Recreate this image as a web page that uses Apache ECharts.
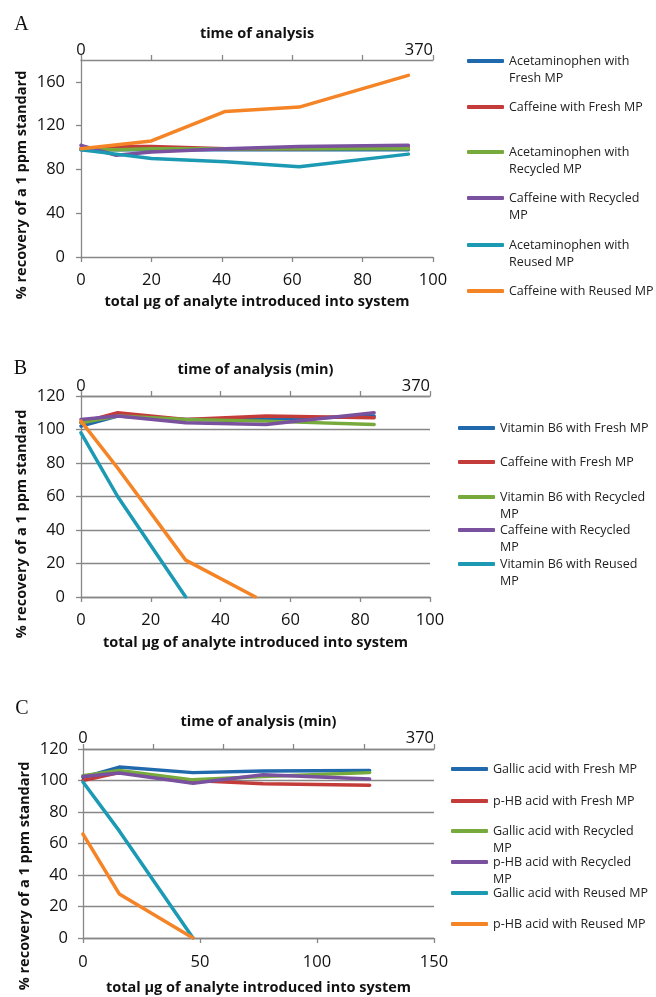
<!DOCTYPE html>
<html><head><meta charset="utf-8">
<script src="https://cdn.jsdelivr.net/npm/echarts@6/dist/echarts.min.js"></script>
<style>html,body{margin:0;padding:0;background:#fff}#c{width:656px;height:997px}</style>
</head><body><div id="c"></div>
<script>
// ---------- Panel A data ----------
const namesA = ['Acetaminophen with Fresh MP','Caffeine with Fresh MP','Acetaminophen with Recycled MP','Caffeine with Recycled MP','Acetaminophen with Reused MP','Caffeine with Reused MP'];
const legendTextA = ['Acetaminophen with\nFresh MP','Caffeine with Fresh MP','Acetaminophen with\nRecycled MP','Caffeine with Recycled\nMP','Acetaminophen with\nReused MP','Caffeine with Reused MP'];
const xA = [0,10,20,41,62,93];
const xAOrange = [0,20,41,62,93];
const aAcetFresh = [98,98,98,98,98,98];
const aCafFresh = [99,101,101,99,99,100];
const aAcetRecycled = [99,98,99,99,99,99];
const aCafRecycled = [102,93,96,99,101,102];
const aAcetReused = [98,94,90,87,82.5,94];
const aCafReused = [99,106,133,137,166];

// ---------- Panel B data ----------
const namesB = ['Vitamin B6 with Fresh MP','Caffeine with Fresh MP','Vitamin B6 with Recycled MP','Caffeine with Recycled MP','Vitamin B6 with Reused MP','Caffeine with Reused MP'];
const legendTextB = ['Vitamin B6 with Fresh MP','Caffeine with Fresh MP','Vitamin B6 with Recycled\nMP','Caffeine with Recycled\nMP','Vitamin B6 with Reused\nMP'];
const xB = [0,10.5,30,53,84];
const xBVitReused = [0,10.5,30];
const xBCafReused = [0,10.5,30,50];
const bVitFresh = [102,108,106,106,108];
const bCafFresh = [104,110,106,108,107];
const bVitRecycled = [104,108,106,105,103];
const bCafRecycled = [106,108,104,103,110];
const bVitReused = [98,60,0];
const bCafReused = [105,77,22,0];

// ---------- Panel C data ----------
const namesC = ['Gallic acid with Fresh MP','p-HB acid with Fresh MP','Gallic acid with Recycled MP','p-HB acid with Recycled MP','Gallic acid with Reused MP','p-HB acid with Reused MP'];
const legendTextC = ['Gallic acid with Fresh MP','p-HB acid with Fresh MP','Gallic acid with Recycled\nMP','p-HB acid with Recycled\nMP','Gallic acid with Reused MP','p-HB acid with Reused MP'];
const xC = [0,15.5,47,77,122.5];
const xCReused = [0,15.5,47];
const cGalFresh = [102,108.5,105,106,106.4];
const cHBFresh = [100,105,100,98,97];
const cGalRecycled = [103,106.4,100.4,102.5,105];
const cHBRecycled = [102.5,104.7,98.3,103.6,101];
const cGalReused = [99,68,0];
const cHBReused = [66,28,0];

// ---------- axis ticks / labels ----------
const topAxisLabels = [0, 370];
const panelLetters = ['A','B','C'];
const yTitle = '% recovery of a 1 ppm standard';
const xTitle = 'total µg of analyte introduced into system';
const topTitles = ['time of analysis','time of analysis (min)','time of analysis (min)'];

// ---------- styles ----------
const colors = ['#2169ad','#c43c3a','#76aa3c','#7a519e','#1c9ab4','#f58426'];
const FONT = 'Open Sans';
const AX = '#878787';
const LH = 17;

const pairs = (xs, ys) => xs.map((x, i) => [x, ys[i]]);

function mkSeries(names, xsList, ysList, idx) {
  return names.map((n, i) => ({
    name: n, type: 'line', xAxisIndex: idx * 2, yAxisIndex: idx,
    data: pairs(xsList[i], ysList[i]),
    showSymbol: false, symbol: 'none', smooth: false,
    lineStyle: { color: colors[i], width: 3.5, cap: 'round', join: 'round' },
    itemStyle: { color: colors[i] },
    emphasis: { disabled: true }, silent: true
  }));
}

const series = [
  ...mkSeries(namesA, [xA,xA,xA,xA,xA,xAOrange], [aAcetFresh,aCafFresh,aAcetRecycled,aCafRecycled,aAcetReused,aCafReused], 0),
  ...mkSeries(namesB, [xB,xB,xB,xB,xBVitReused,xBCafReused], [bVitFresh,bCafFresh,bVitRecycled,bCafRecycled,bVitReused,bCafReused], 1),
  ...mkSeries(namesC, [xC,xC,xC,xC,xCReused,xCReused], [cGalFresh,cHBFresh,cGalRecycled,cHBRecycled,cGalReused,cHBReused], 2)
];

function mkLegends(names, texts, left, ys) {
  return texts.map((t, i) => {
    const n = t.split('\n').length;
    const disp = n > 1 ? '\n' + t : t;
    const total = n > 1 ? n + 1 : 1;
    return {
      data: [names[i]], left: left, top: ys[i] - total * LH / 2,
      orient: 'vertical', padding: 0, itemWidth: 37, itemHeight: 4,
      icon: 'roundRect', selectedMode: false,
      formatter: () => disp,
      textStyle: { fontFamily: FONT, fontSize: 12.5, color: '#222', lineHeight: LH }
    };
  });
}

const legends = [
  ...mkLegends(namesA, legendTextA, 467, [61,107,152,198,245,291]),
  ...mkLegends(namesB, legendTextB, 458, [428,462,497,530,564]),
  ...mkLegends(namesC, legendTextC, 451, [769,801,831,862,893,924])
];

const grids = [
  { left: 81, width: 352, top: 60, height: 197 },
  { left: 81, width: 349, top: 396, height: 201 },
  { left: 83, width: 351, top: 749, height: 189 }
].map(g => Object.assign({ outerBoundsMode: 'none', containLabel: false }, g));

const lineS = { show: true, lineStyle: { color: AX, width: 1.3 } };
const tickS = { show: true, length: 5, inside: false, lineStyle: { color: AX, width: 1.3 } };
const labS = { color: '#111', fontSize: 16.5, fontFamily: FONT };
const titleS = { color: '#111', fontSize: 14.5, fontWeight: 'bold', fontFamily: FONT };

const bottomMax = [100, 100, 150], bottomInt = [20, 20, 50];
const botGap = [37, 38, 42], botMargin = [15, 15, 16];
const topGap = [8, 8, 9], topMargin = [1, 1, 2];
const xAxes = [];
for (let i = 0; i < 3; i++) {
  xAxes.push({
    type: 'value', gridIndex: i, position: 'bottom', min: 0, max: bottomMax[i], interval: bottomInt[i],
    axisLine: lineS, axisTick: tickS, splitLine: { show: false },
    axisLabel: Object.assign({ margin: botMargin[i] }, labS),
    name: xTitle, nameLocation: 'middle', nameGap: botGap[i], nameTextStyle: titleS
  });
  xAxes.push({
    type: 'value', gridIndex: i, position: 'top', min: 0, max: 370, interval: 74,
    axisLine: lineS, axisTick: tickS, splitLine: { show: false },
    axisLabel: Object.assign({ margin: topMargin[i], alignMaxLabel: 'right',
      formatter: v => topAxisLabels.includes(v) ? String(v) : '' }, labS),
    name: topTitles[i], nameLocation: 'middle', nameGap: topGap[i], nameTextStyle: titleS
  });
}
const yMax = [180, 120, 120], yInt = [40, 20, 20], yMargin = [16, 16, 15];
const yAxes = [0,1,2].map(i => ({
  type: 'value', gridIndex: i, min: 0, max: yMax[i], interval: yInt[i],
  axisLine: lineS, axisTick: tickS,
  axisLabel: Object.assign({ margin: yMargin[i], showMaxLabel: i !== 0 }, labS),
  splitLine: { show: i !== 0, lineStyle: { color: AX, width: 1.3 } }
}));

const letterPos = [[21.5, 25], [20.5, 368.5], [22, 708.5]];
const yTitlePos = [[22, 185], [22, 524], [25, 876]];
const graphic = [];
for (let i = 0; i < 3; i++) {
  graphic.push({ type: 'text', x: letterPos[i][0], y: letterPos[i][1],
    style: { text: panelLetters[i], fill: '#111', font: '20px "Liberation Serif", serif', textAlign: 'center', textVerticalAlign: 'middle' } });
  graphic.push({ type: 'text', x: yTitlePos[i][0], y: yTitlePos[i][1], rotation: Math.PI / 2,
    style: { text: yTitle, fill: '#111', font: 'bold 14.5px "Open Sans"', textAlign: 'center', textVerticalAlign: 'middle' } });
}

const chart = echarts.init(document.getElementById('c'), null, { renderer: 'canvas' });
chart.setOption({
  animation: false, backgroundColor: '#fff',
  grid: grids, xAxis: xAxes, yAxis: yAxes,
  legend: legends, series: series, graphic: graphic
});
</script></body></html>
